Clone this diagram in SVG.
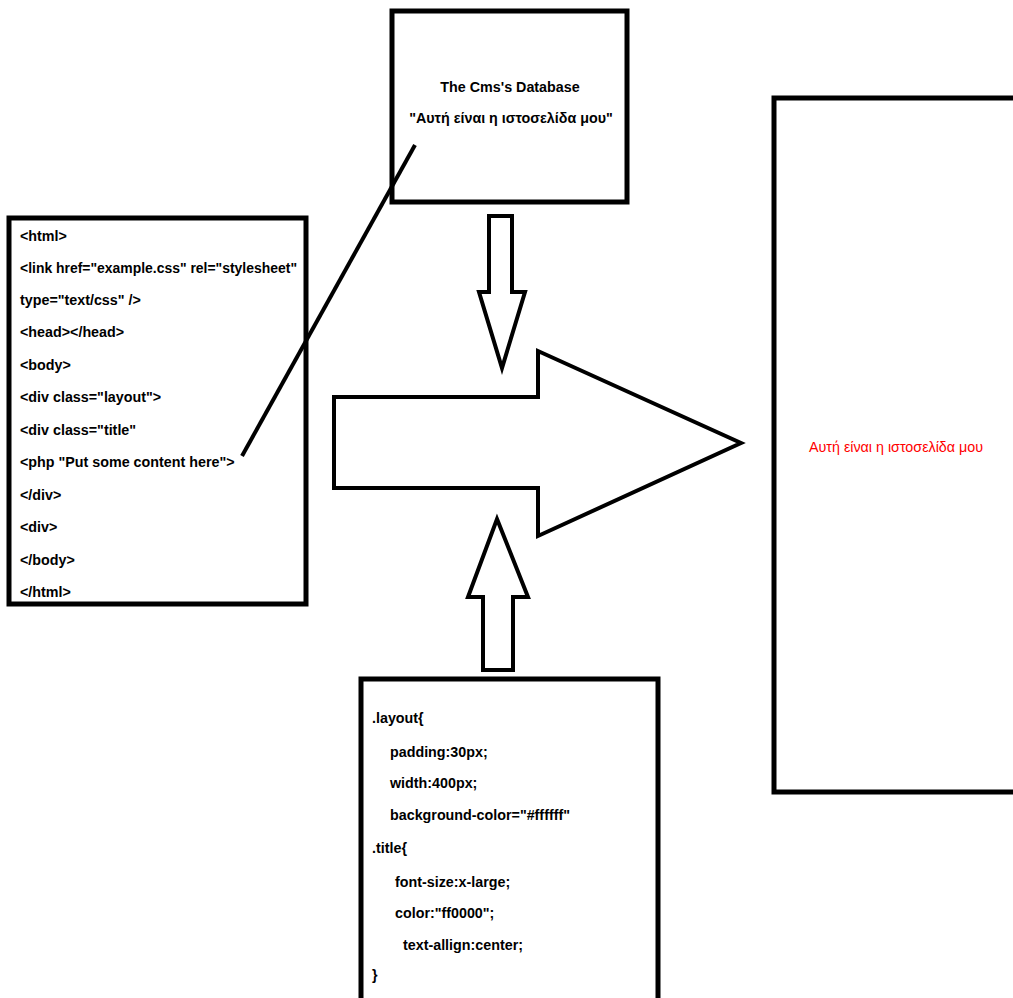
<svg xmlns="http://www.w3.org/2000/svg" width="1013" height="998" viewBox="0 0 1013 998">
<style>
.box{fill:#fff;stroke:#000;stroke-width:5}
.arr{fill:#fff;stroke:#000;stroke-width:4;stroke-linejoin:miter}
.t{font-family:"Liberation Sans",Arial,sans-serif;font-size:14.3px;font-weight:bold;fill:#000}
.red{font-family:"Liberation Sans",Arial,sans-serif;font-size:14.3px;fill:#ff0000}
</style>
<rect width="1013" height="998" fill="#fff"/>
<g id="db">
<rect class="box" x="392" y="11" width="235" height="191"/>
<text class="t" x="510" y="92" text-anchor="middle">The Cms's Database</text>
<text class="t" x="511" y="123" text-anchor="middle">"Αυτή είναι η ιστοσελίδα μου"</text>
</g>
<g id="html">
<rect class="box" x="9" y="218" width="297" height="386"/>
<text class="t" x="20" y="241">&lt;html&gt;</text>
<text class="t" x="20" y="273" textLength="277" lengthAdjust="spacingAndGlyphs">&lt;link href="example.css" rel="stylesheet"</text>
<text class="t" x="20" y="305">type="text/css" /&gt;</text>
<text class="t" x="20" y="337">&lt;head&gt;&lt;/head&gt;</text>
<text class="t" x="20" y="370">&lt;body&gt;</text>
<text class="t" x="20" y="402">&lt;div class="layout"&gt;</text>
<text class="t" x="20" y="435">&lt;div class="title"</text>
<text class="t" x="20" y="467">&lt;php "Put some content here"&gt;</text>
<text class="t" x="20" y="500">&lt;/div&gt;</text>
<text class="t" x="20" y="532">&lt;div&gt;</text>
<text class="t" x="20" y="565">&lt;/body&gt;</text>
<text class="t" x="20" y="597">&lt;/html&gt;</text>
</g>
<g id="css">
<rect class="box" x="361" y="679" width="297" height="330"/>
<text class="t" x="372" y="723">.layout{</text>
<text class="t" x="390" y="757">padding:30px;</text>
<text class="t" x="390" y="788">width:400px;</text>
<text class="t" x="390" y="820">background-color="#ffffff"</text>
<text class="t" x="372" y="853">.title{</text>
<text class="t" x="395" y="887">font-size:x-large;</text>
<text class="t" x="395" y="918">color:"ff0000";</text>
<text class="t" x="403" y="950">text-allign:center;</text>
<text class="t" x="372" y="980">}</text>
</g>
<g id="page">
<rect class="box" x="774" y="98" width="250" height="694"/>
<text class="red" x="896" y="452" text-anchor="middle">Αυτή είναι η ιστοσελίδα μου</text>
</g>
<g id="connectors">
<line x1="242" y1="456" x2="415" y2="145" stroke="#000" stroke-width="4"/>
<polygon class="arr" points="489,216 512,216 512,292 525,292 502,368 479,292 489,292"/>
<polygon class="arr" points="334,397 538,397 538,351 741,443 538,536 538,488 334,488"/>
<polygon class="arr" points="497,519 528,597 513,597 513,670 483,670 483,597 468,597"/>
</g>
</svg>
